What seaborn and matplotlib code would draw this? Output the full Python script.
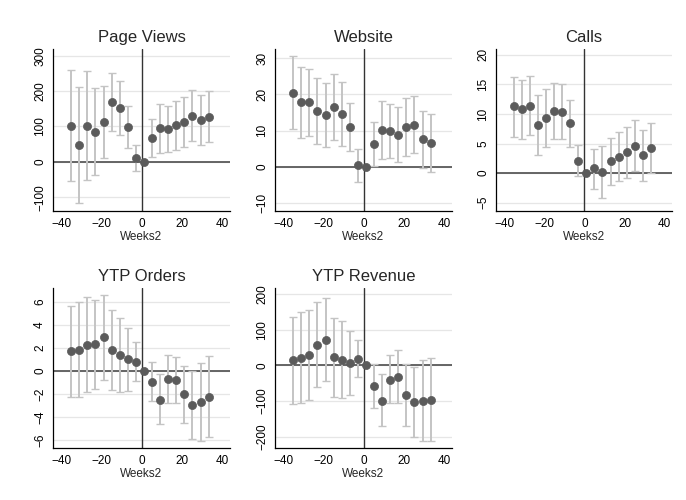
import numpy as np
import pandas as pd
import matplotlib
matplotlib.use("Agg")
import matplotlib.pyplot as plt
import seaborn as sns

sns.set_style("white")
plt.rcParams["font.family"] = ["Liberation Sans", "DejaVu Sans"]

# Event-time bins (weeks relative to launch)
weeks = [-35, -31, -27, -23, -19, -15, -11, -7, -3, 1, 5, 9, 13, 17, 21, 25, 29, 33]

# Point estimates and 95% confidence bounds per outcome
page_views = [102, 47, 102, 84, 112, 170, 152, 99, 10, 0, 68, 95, 93, 103, 114, 130, 118, 128]
page_views_lo = [-53, -115, -50, -38, 12, 87, 75, 40, -25, 0, 15, 26, 27, 34, 43, 58, 47, 56]
page_views_hi = [260, 211, 256, 208, 213, 252, 228, 158, 47, 0, 122, 163, 158, 172, 184, 202, 188, 200]

website = [20.4, 17.8, 17.9, 15.5, 14.4, 16.5, 14.5, 11.0, 0.4, 0, 6.3, 10.1, 9.9, 8.9, 10.9, 11.6, 7.6, 6.6]
website_lo = [10.3, 7.8, 8.6, 6.4, 5.5, 7.4, 5.8, 4.3, -4.2, 0, 0.2, 2.0, 2.3, 1.2, 3.0, 3.7, -0.3, -1.4]
website_hi = [30.6, 27.6, 27.1, 24.6, 23.3, 25.6, 23.4, 17.7, 4.9, 0, 12.4, 18.1, 17.3, 16.5, 19.0, 19.6, 15.5, 14.5]

calls = [11.3, 10.8, 11.4, 8.1, 9.4, 10.5, 10.4, 8.4, 2.1, 0, 0.8, 0.2, 2.0, 2.8, 3.5, 4.6, 3.0, 4.2]
calls_lo = [6.2, 5.8, 6.4, 3.0, 4.5, 5.8, 5.8, 4.4, -0.4, 0, -2.6, -4.2, -2.0, -1.3, -0.8, 0.3, -1.3, 0.0]
calls_hi = [16.3, 15.8, 16.5, 13.3, 14.3, 15.2, 15.0, 12.3, 4.7, 0, 4.1, 4.6, 6.0, 7.0, 7.8, 9.0, 7.3, 8.4]

orders = [1.7, 1.8, 2.25, 2.3, 2.9, 1.8, 1.4, 1.0, 0.8, 0, -0.95, -2.5, -0.7, -0.8, -2.0, -2.95, -2.7, -2.25]
orders_lo = [-2.25, -2.3, -1.85, -1.55, -0.75, -1.65, -1.85, -1.75, -0.85, 0, -2.6, -4.65, -2.8, -2.75, -4.5, -5.9, -6.05, -5.75]
orders_hi = [5.6, 6.0, 6.4, 6.15, 6.6, 5.25, 4.6, 3.75, 2.5, 0, 0.75, -0.3, 1.35, 1.2, 0.45, -0.05, 0.7, 1.25]

revenue = [15, 21, 30, 58, 72, 22, 15, 6, 18, 0, -58, -99, -40, -32, -83, -103, -101, -97]
revenue_lo = [-108, -107, -97, -60, -44, -88, -93, -82, -33, 0, -120, -171, -107, -107, -170, -202, -212, -211]
revenue_hi = [137, 151, 156, 177, 190, 133, 123, 95, 70, 0, 3, -25, 28, 42, 5, -5, 14, 20]

titles = ["Page Views", "Website", "Calls", "YTP Orders", "YTP Revenue"]
x_ticks = [-40, -20, 0, 20, 40]

panels = [
    (titles[0], page_views, page_views_lo, page_views_hi, [-100, 0, 100, 200, 300], (-139, 319)),
    (titles[1], website, website_lo, website_hi, [-10, 0, 10, 20, 30], (-12.3, 32.6)),
    (titles[2], calls, calls_lo, calls_hi, [-5, 0, 5, 10, 15, 20], (-6.4, 21.0)),
    (titles[3], orders, orders_lo, orders_hi, [-6, -4, -2, 0, 2, 4, 6], (-6.7, 7.2)),
    (titles[4], revenue, revenue_lo, revenue_hi, [-200, -100, 0, 100, 200], (-232, 217)),
]

W, H = 686, 500
fig = plt.figure(figsize=(W / 100, H / 100), dpi=100)
fig.patch.set_facecolor("white")

# Panel boxes in pixels: left, right, top, bottom
boxes = [
    (53, 230, 49, 211),
    (275, 452, 49, 211),
    (496, 672, 49, 211),
    (53, 230, 288, 448),
    (275, 452, 288, 448),
]

for (title, est, lo, hi, yt, ylim), (l, r, t, b) in zip(panels, boxes):
    ax = fig.add_axes([l / W, 1 - b / H, (r - l) / W, (b - t) / H])
    df = pd.DataFrame({"Weeks2": weeks, "est": est, "lo": lo, "hi": hi})
    ci = df[df["Weeks2"] != 1]

    for y in yt:
        ax.axhline(y, color="#e6e6e6", lw=0.9, zorder=0)
    ax.axhline(0, color="#5a5a5a", lw=1.3, zorder=1)
    ax.axvline(0, color="#333333", lw=1.0, zorder=1)

    ax.errorbar(ci["Weeks2"], ci["est"],
                yerr=[ci["est"] - ci["lo"], ci["hi"] - ci["est"]],
                fmt="none", ecolor="#c4c4c4", elinewidth=1.4,
                capsize=3, capthick=1.0, zorder=2)
    sns.scatterplot(data=df, x="Weeks2", y="est", ax=ax, color="#5b5b5b",
                    s=34, edgecolor="#5b5b5b", linewidth=0.5, zorder=3)

    ax.set_xlim(-44, 43.6)
    ax.set_ylim(*ylim)
    ax.set_xticks(x_ticks)
    ax.set_yticks(yt)
    ax.set_title(title, fontsize=12, pad=5)
    ax.set_xlabel("Weeks2", fontsize=8.5, labelpad=1)
    ax.set_ylabel("")
    ax.tick_params(axis="both", labelsize=8.5, length=3, width=0.8,
                   colors="black", direction="out", pad=2)
    ax.tick_params(axis="y", labelrotation=90)
    for lab in ax.get_yticklabels():
        lab.set_verticalalignment("center")
    for side in ["top", "right"]:
        ax.spines[side].set_visible(False)
    for side in ["left", "bottom"]:
        ax.spines[side].set_color("black")
        ax.spines[side].set_linewidth(0.9)
    ax.grid(False)
    ax.set_facecolor("white")

fig.savefig("out.png", dpi=100, facecolor="white")
